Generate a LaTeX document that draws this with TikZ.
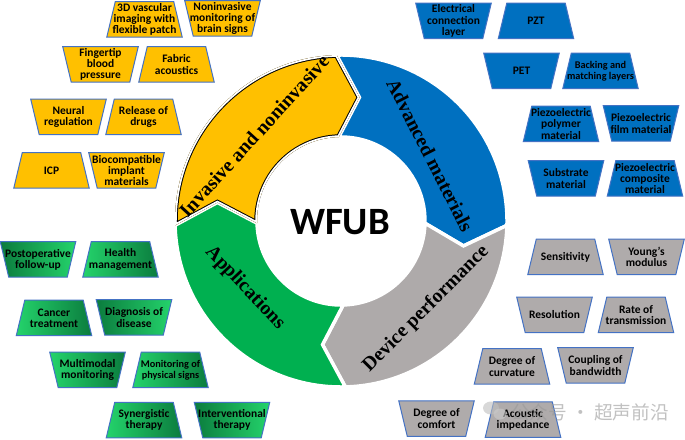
\documentclass[tikz,border=0pt]{standalone}
\usepackage{fontspec}
\setmainfont{Carlito}
\newfontfamily\ringfont{Liberation Serif}
\newfontfamily\cjkfont{Noto Sans CJK SC}
\definecolor{ringyellow}{HTML}{FFC000}
\definecolor{ringblue}{HTML}{0070C0}
\definecolor{ringgreen}{HTML}{00B050}
\definecolor{ringgray}{HTML}{AEAAAA}
\definecolor{boxgray}{HTML}{AFABAB}
\definecolor{boxborder}{HTML}{4472C4}
\definecolor{greenlight}{HTML}{24D36B}
\definecolor{greendark}{HTML}{0B7C3E}
\tikzset{
  boxline/.style={draw=boxborder, line width=0.75pt},
  yellowbox/.style={boxline, fill=ringyellow},
  bluebox/.style={boxline, fill=ringblue},
  graybox/.style={boxline, fill=boxgray},
  greenlr/.style={boxline, left color=greenlight, right color=greendark},
  greenrl/.style={boxline, left color=greendark, right color=greenlight},
  boxtext/.style={font=\bfseries\fontsize{8.6}{8.4}\selectfont, align=center, inner sep=0pt, text=black},
  smalltext/.style={boxtext, font=\bfseries\fontsize{7.7}{8.0}\selectfont},
  ringlabel/.style={font=\ringfont\bfseries\fontsize{14.8}{16}\selectfont, inner sep=0pt, text=black},
}
% trapezoid narrow at top: [text style], name, box style, cx, cy (image px, y down), text
\newcommand{\tup}[6][boxtext]{%
  \path[#3] (#4-29.25,439-#5+17.75) -- (#4+29.25,439-#5+17.75) -- (#4+37.75,439-#5-17.75) -- (#4-37.75,439-#5-17.75) -- cycle;
  \node[#1] (#2) at (#4,439-#5) {#6};}
% trapezoid narrow at bottom
\newcommand{\tdn}[6][boxtext]{%
  \path[#3] (#4-37.75,439-#5+17.75) -- (#4+37.75,439-#5+17.75) -- (#4+29.25,439-#5-17.75) -- (#4-29.25,439-#5-17.75) -- cycle;
  \node[#1] (#2) at (#4,439-#5) {#6};}
% ring segment path with given options, start angle, end angle (clockwise)
\newcommand{\segp}[3]{%
  \path[#1] (#2:166) arc[start angle=#2, end angle=#3, radius=166] -- (#3-10:125) -- (#3:84) arc[start angle=#3, end angle=#2, radius=84] -- (#2-10:125) -- cycle;}
\begin{document}
\begin{tikzpicture}[x=0.75pt, y=0.75pt]
\useasboundingbox (0,0) rectangle (685,439);
\fill[white] (0,0) rectangle (685,439);

% ---------- ring ----------
\begin{scope}[shift={(341,218)}]
  \segp{fill=ringblue}{91.5}{-1.5}
  \segp{draw=white, line width=2.6pt}{91.5}{-1.5}
  \segp{fill=ringgray}{-1.5}{-88.5}
  \segp{draw=white, line width=2.6pt}{-1.5}{-88.5}
  \segp{fill=ringgreen}{271.5}{181.5}
  \segp{draw=white, line width=2.6pt}{271.5}{181.5}
  \begin{scope}
    \segp{clip}{181.5}{91.5}
    \segp{fill=ringyellow}{181.5}{91.5}
    \segp{draw=black, line width=4.1pt}{181.5}{91.5}
    \segp{draw=white, line width=2.6pt}{181.5}{91.5}
  \end{scope}
\end{scope}

\node[ringlabel, rotate=47.6] (inv) at (254,439-136) {Invasive and noninvasive};
\node[ringlabel, rotate=-63] (adv) at (430,439-155) {Advanced materials};
\node[ringlabel, rotate=-46.5] (app) at (245,439-288) {Applications};
\node[ringlabel, rotate=45] (dev) at (426,439-309) {Device performance};
\node[font=\bfseries\fontsize{29}{30}\selectfont, inner sep=0pt] (wfub) at (340,439-222) {WFUB};

% ---------- yellow boxes ----------
\tup{y1}{yellowbox}{144.5}{19.5}{3D vascular\\imaging with\\flexible patch}
\tdn{y2}{yellowbox}{222.5}{18.5}{Noninvasive\\monitoring of\\brain signs}
\tdn{y3}{yellowbox}{100.5}{64.5}{Fingertip\\blood\\pressure}
\tup{y4}{yellowbox}{176.5}{64.5}{Fabric\\acoustics}
\tdn{y5}{yellowbox}{68.5}{117}{Neural\\regulation}
\tup{y6}{yellowbox}{143.5}{117}{Release of\\drugs}
\tup{y7}{yellowbox}{51.5}{170.5}{ICP}
\tdn{y8}{yellowbox}{126.5}{170.5}{Biocompatible\\implant\\materials}

% ---------- blue boxes ----------
\tdn{b1}{bluebox}{453.5}{21}{Electrical\\connection\\layer}
\tup{b2}{bluebox}{536}{21}{PZT}
\tdn{b3}{bluebox}{521.5}{71}{PET}
\tup[smalltext]{b4}{bluebox}{600.5}{71}{Backing and\\matching layers}
\tup{b5}{bluebox}{561}{124}{Piezoelectric\\polymer\\material}
\tdn{b6}{bluebox}{641}{123.5}{Piezoelectric\\film material}
\tdn{b7}{bluebox}{566}{178.5}{Substrate\\material}
\tup{b8}{bluebox}{645}{178.5}{Piezoelectric\\composite\\material}

% ---------- green boxes ----------
\tdn{g1}{greenrl}{38}{259.5}{Postoperative\\follow-up}
\tup{g2}{greenlr}{120.5}{259.5}{Health\\management}
\tup{g3}{greenlr}{54}{318}{Cancer\\treatment}
\tdn{g4}{greenrl}{134}{317.5}{Diagnosis of\\disease}
\tdn{g5}{greenlr}{87.5}{370}{Multimodal\\monitoring}
\tup[smalltext]{g6}{greenlr}{170.5}{370}{Monitoring of\\physical signs}
\tup{g7}{greenlr}{144}{420}{Synergistic\\therapy}
\tdn{g8}{greenrl}{232}{420}{Interventional\\therapy}

% ---------- gray boxes ----------
\tup{d1}{graybox}{565.5}{257}{Sensitivity}
\tdn{d2}{graybox}{646.5}{257}{Young's\\modulus}
\tdn{d3}{graybox}{554.5}{315}{Resolution}
\tup{d4}{graybox}{636}{315}{Rate of\\transmission}
\tup{d5}{graybox}{512}{366.5}{Degree of\\curvature}
\tdn{d6}{graybox}{595.5}{365.5}{Coupling of\\bandwidth}
\tdn{d7}{graybox}{436.5}{418.5}{Degree of\\comfort}
\tup{d8}{graybox}{523}{419.5}{Acoustic\\impedance}

% ---------- watermark ----------
\begin{scope}[opacity=0.6]
  \fill[gray!50] (491,439-408) ellipse [x radius=8, y radius=6.5];
  \fill[gray!40] (500,439-414) ellipse [x radius=6.5, y radius=5.5];
  \node[text=gray!80, font=\cjkfont\fontsize{14}{14}\selectfont, inner sep=0pt] (wm) at (590,439-412) {公众号 · 超声前沿};
\end{scope}
\end{tikzpicture}
\end{document}
